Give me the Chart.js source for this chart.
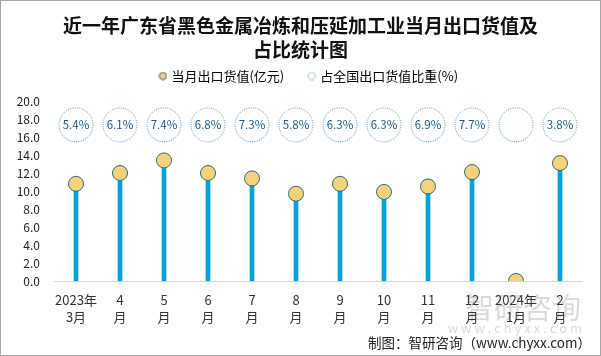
<!DOCTYPE html>
<html><head><meta charset="utf-8">
<script src="https://cdn.jsdelivr.net/npm/chart.js@4/dist/chart.umd.min.js"></script>
<style>html,body{margin:0;padding:0;background:#fff;}#wrap{width:601px;height:356px;position:relative;}</style>
</head><body><div id="wrap"><canvas id="c" width="601" height="356"></canvas></div>
<script>
const categories = [['2023年','3月'],['4','月'],['5','月'],['6','月'],['7','月'],['8','月'],['9','月'],['10','月'],['11','月'],['12','月'],['2024年','1月'],['2','月']];
const exportValues = [10.8,12.0,13.4,12.0,11.4,9.7,10.8,9.9,10.5,12.1,0,13.1];
const shareValues = [5.4,6.1,7.4,6.8,7.3,5.8,6.3,6.3,6.9,7.7,null,3.8];
const titleLines = ['近一年广东省黑色金属冶炼和压延加工业当月出口货值及','占比统计图'];
const legendLabels = ['当月出口货值(亿元)','占全国出口货值比重(%)'];
const footerText = '制图：智研咨询（www.chyxx.com）';
const watermarkName = '智研咨询';
const watermarkUrl = 'w w w . c h y x x . c o m';
const yMin = 0, yMax = 20, yStep = 2;
const circleRow = 17.35;

const FONT = "'Noto Sans CJK SC', 'Noto Sans', sans-serif";

function dottedIcon(){
  const c = document.createElement('canvas'); c.width = 9; c.height = 9;
  const x = c.getContext('2d');
  x.setLineDash([1,1]); x.strokeStyle = '#4f88a6'; x.lineWidth = 1;
  x.beginPath(); x.arc(4.5,4.5,3.6,0,Math.PI*2); x.stroke();
  return c;
}
function dotIcon(){
  const c = document.createElement('canvas'); c.width = 9; c.height = 9;
  const x = c.getContext('2d');
  x.fillStyle = '#f6d37a'; x.strokeStyle = '#2e6b7a'; x.lineWidth = 1;
  x.beginPath(); x.arc(4.5,4.5,3.6,0,Math.PI*2); x.fill(); x.stroke();
  return c;
}
const icons = [dotIcon(), dottedIcon()];

const framePlugin = {
  id: 'frame',
  afterLayout(chart){
    if (chart.legend) chart.legend.left += 18;
  },
  beforeDraw(chart){
    const ctx = chart.ctx;
    ctx.save();
    ctx.fillStyle = '#fff'; ctx.fillRect(0,0,chart.width,chart.height);
    ctx.fillStyle = 'rgba(150,150,150,0.35)';
    ctx.font = '29px ' + FONT; ctx.textAlign = 'right'; ctx.textBaseline = 'middle';
    ctx.fillText(watermarkName, 581, 308);
    ctx.font = '13px ' + FONT;
    ctx.fillText(watermarkUrl, 582, 328);
    ctx.restore();
  },
  afterDraw(chart){
    const ctx = chart.ctx;
    ctx.save();
    ctx.fillStyle = '#222'; ctx.font = '13.5px ' + FONT;
    ctx.textAlign = 'right'; ctx.textBaseline = 'middle';
    ctx.fillText(footerText, 591, 342.5);
    ctx.strokeStyle = '#a6a6a6'; ctx.lineWidth = 1;
    ctx.strokeRect(0.5,0.5,chart.width-1,chart.height-1);
    ctx.restore();
  }
};
const sharePlugin = {
  id: 'shareCircles',
  afterDatasetsDraw(chart){
    const ctx = chart.ctx, xs = chart.scales.x, ys = chart.scales.y;
    const y = ys.getPixelForValue(circleRow);
    ctx.save();
    shareValues.forEach((v,i)=>{
      const x = xs.getPixelForValue(i);
      ctx.setLineDash([1,1.3]);
      ctx.strokeStyle = '#5f95b0'; ctx.lineWidth = 1;
      ctx.beginPath(); ctx.arc(x,y,17,0,Math.PI*2); ctx.stroke();
      if (v !== null){
        ctx.setLineDash([]);
        ctx.fillStyle = '#1d5c8c';
        ctx.font = '11.5px ' + FONT;
        ctx.textAlign = 'center'; ctx.textBaseline = 'middle';
        ctx.fillText(v.toFixed(1)+'%', x, y);
      }
    });
    ctx.restore();
  }
};

new Chart(document.getElementById('c'), {
  data: {
    labels: categories,
    datasets: [
      { type:'bar', label: legendLabels[0], data: exportValues, backgroundColor:'#00a2dc', barThickness:4, order:2 },
      { type:'line', label: legendLabels[0], data: exportValues, showLine:false, pointRadius:7.5, pointHoverRadius:7.5,
        pointBackgroundColor:'#f6d37a', pointBorderColor:'#2e6b7a', pointBorderWidth:1, order:1 }
    ]
  },
  options: {
    responsive:false, animation:false, devicePixelRatio:1,
    layout:{ padding:{ left:0, right:0, top:0, bottom:0 } },
    plugins:{
      tooltip:{enabled:false},
      title:{ display:true, text:titleLines, color:'#111', font:{family:FONT, size:19, weight:'bold', lineHeight:1.3}, padding:{top:13,bottom:-18.4} },
      legend:{ display:true, position:'top',
        labels:{ color:'#333', font:{family:FONT,size:13}, usePointStyle:true, pointStyleWidth:4, boxWidth:4, boxHeight:8, padding:25.5,
          generateLabels(){ return legendLabels.map((t,i)=>({text:t, pointStyle:icons[i], fillStyle:'#fff', strokeStyle:'#fff', lineWidth:0, hidden:false, datasetIndex:i})); } } }
    },
    scales:{
      x:{ offset:true, grid:{display:false, drawTicks:false}, border:{display:true,color:'#d9d9d9',width:1},
        afterFit(s){ s.height = 75; },
        ticks:{ color:'#333', font:{family:FONT,size:13,lineHeight:1.28}, padding:11, maxRotation:0, autoSkip:false } },
      xTop:{ type:'linear', position:'top', display:true, grid:{display:false,drawTicks:false}, border:{display:false}, ticks:{display:false},
        afterFit(s){ s.height = 8.5; } },
      y:{ min:yMin, max:yMax, grid:{display:false, drawTicks:false}, border:{display:false},
        afterFit(s){ s.width = 54; },
        ticks:{ stepSize:yStep, color:'#222', font:{family:FONT,size:12}, padding:14, callback:v=>v.toFixed(1) } },
      yRight:{ type:'linear', position:'right', display:true, grid:{display:false,drawTicks:false}, border:{display:false}, ticks:{display:false},
        afterFit(s){ s.width = 19; } }
    }
  },
  plugins:[framePlugin, sharePlugin]
});
</script></body></html>
